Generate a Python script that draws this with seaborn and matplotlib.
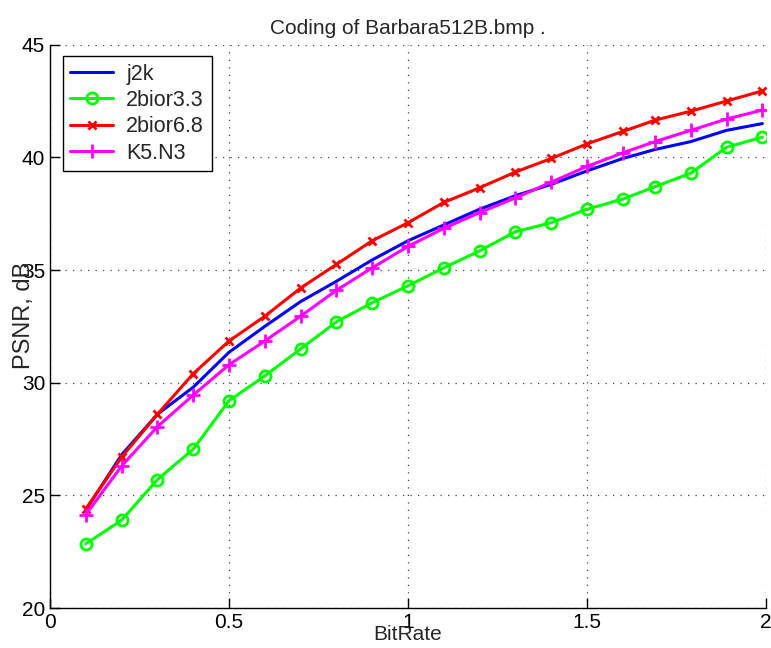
import matplotlib
matplotlib.use("Agg")
import pandas as pd
import matplotlib.pyplot as plt
import seaborn as sns

# data
bitrate = [0.1, 0.2, 0.3, 0.4, 0.5, 0.6, 0.7, 0.8, 0.9, 1.0,
           1.1, 1.2, 1.3, 1.4, 1.5, 1.6, 1.69, 1.79, 1.89, 1.99]
j2k = [24.35, 26.8, 28.6, 29.8, 31.35, 32.5, 33.6, 34.5, 35.45, 36.3,
       37.0, 37.7, 38.3, 38.8, 39.4, 39.95, 40.35, 40.7, 41.2, 41.5]
bior33 = [22.85, 23.9, 25.7, 27.05, 29.2, 30.3, 31.5, 32.7, 33.55, 34.3,
          35.1, 35.85, 36.7, 37.1, 37.7, 38.15, 38.7, 39.3, 40.45, 40.9]
bior68 = [24.4, 26.7, 28.6, 30.4, 31.85, 32.95, 34.2, 35.25, 36.3, 37.1,
          38.0, 38.65, 39.35, 39.95, 40.6, 41.15, 41.65, 42.05, 42.5, 42.95]
k5n3 = [24.15, 26.3, 28.05, 29.45, 30.8, 31.85, 32.95, 34.1, 35.1, 36.05,
        36.85, 37.55, 38.2, 38.9, 39.6, 40.2, 40.7, 41.2, 41.7, 42.1]

sns.set_style("ticks")
plt.rcParams['font.family'] = ['Liberation Sans', 'DejaVu Sans']

fig = plt.figure(figsize=(7.71, 6.48), dpi=100)
ax = fig.add_axes([0.0649, 0.0617, 0.9286, 0.8693])

df = pd.DataFrame({"BitRate": bitrate})
lw = 2.2
sns.lineplot(data=df.assign(v=j2k), x="BitRate", y="v", ax=ax, color="#0000ff",
             linewidth=lw, label="j2k")
sns.lineplot(data=df.assign(v=bior33), x="BitRate", y="v", ax=ax, color="#00ff00",
             linewidth=lw, marker="o", markersize=8, markerfacecolor="none",
             markeredgecolor="#00ff00", markeredgewidth=2, label="2bior3.3")
sns.lineplot(data=df.assign(v=bior68), x="BitRate", y="v", ax=ax, color="#ff0000",
             linewidth=lw, marker="x", markersize=6, markeredgewidth=2,
             markeredgecolor="#ff0000", label="2bior6.8")
sns.lineplot(data=df.assign(v=k5n3), x="BitRate", y="v", ax=ax, color="#ff00ff",
             linewidth=lw, marker="+", markersize=10, markeredgewidth=2,
             markeredgecolor="#ff00ff", label="K5.N3")

ax.set_xlim(0, 2)
ax.set_ylim(20, 45)
ax.set_xticks([0, 0.5, 1, 1.5, 2])
ax.set_xticklabels(["0", "0.5", "1", "1.5", "2"])
ax.set_yticks([20, 25, 30, 35, 40, 45])
ax.tick_params(direction="in", length=7, width=1, labelsize=15, colors="black")
ax.grid(True, linestyle=(0, (1, 5)), color="#444444", linewidth=0.9)
for s in ["top", "right"]:
    ax.spines[s].set_visible(False)
for s in ["left", "bottom"]:
    ax.spines[s].set_color("black")
    ax.spines[s].set_linewidth(1)

ax.set_title("Coding of Barbara512B.bmp .", fontsize=15, pad=8)
ax.set_xlabel("BitRate", fontsize=15)
ax.set_ylabel("PSNR, dB", fontsize=17, va="center")
ax.xaxis.set_label_coords(0.5, -0.03)
ax.yaxis.set_label_coords(-0.036, 0.52)

leg = ax.legend(loc="upper left", bbox_to_anchor=(0.0177, 0.98), fontsize=15.5,
                frameon=True, fancybox=False, handlelength=2.0, borderaxespad=0,
                borderpad=0.35, labelspacing=0.25, handletextpad=0.6)
leg.get_frame().set_edgecolor("black")
leg.get_frame().set_linewidth(1)
leg.get_frame().set_alpha(1)

fig.savefig("out.png", dpi=100)
